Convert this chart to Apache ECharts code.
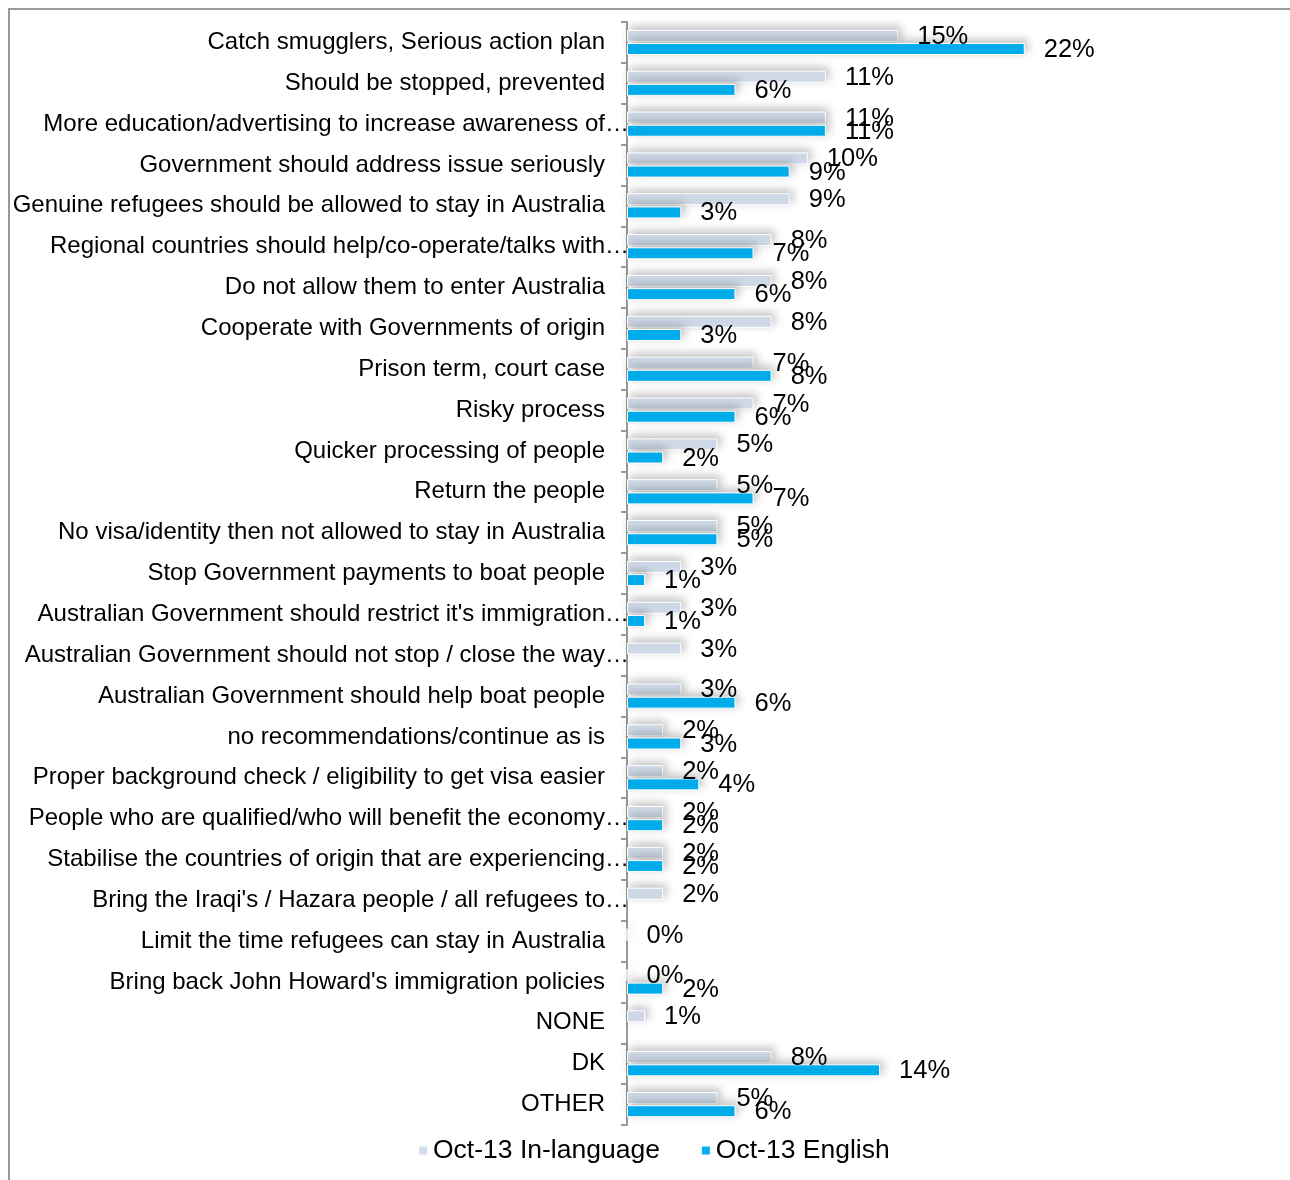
<!DOCTYPE html>
<html>
<head>
<meta charset="utf-8">
<script src="https://cdn.jsdelivr.net/npm/echarts@6/dist/echarts.min.js"></script>
<style>
  html, body { margin: 0; padding: 0; background: #fff; }
  #chart { width: 1290px; height: 1180px; }
</style>
</head>
<body>
<div id="chart"></div>
<script>
// categories, top to bottom
const categories = [
  'Catch smugglers, Serious action plan',
  'Should be stopped, prevented',
  'More education/advertising to increase awareness of…',
  'Government should address issue seriously',
  'Genuine refugees should be allowed to stay in Australia',
  'Regional countries should help/co-operate/talks with…',
  'Do not allow them to enter Australia',
  'Cooperate with Governments of origin',
  'Prison term, court case',
  'Risky process',
  'Quicker processing of people',
  'Return the people',
  'No visa/identity then not allowed to stay in Australia',
  'Stop Government payments to boat people',
  "Australian Government should restrict it's immigration…",
  'Australian Government should not stop / close the way…',
  'Australian Government should help boat people',
  'no recommendations/continue as is',
  'Proper background check / eligibility to get visa easier',
  'People who are qualified/who will benefit the economy…',
  'Stabilise the countries of origin that are experiencing…',
  "Bring the Iraqi's / Hazara people / all refugees to…",
  'Limit the time refugees can stay in Australia',
  "Bring back John Howard's immigration policies",
  'NONE',
  'DK',
  'OTHER'
]

// percentages
const inLanguage = [15, 11, 11, 10, 9, 8, 8, 8, 7, 7, 5, 5, 5, 3, 3, 3, 3, 2, 2, 2, 2, 2, 0, 0, 1, 8, 5]
const english = [22, 6, 11, 9, 3, 7, 6, 3, 8, 6, 2, 7, 5, 1, 1, null, 6, 3, 4, 2, 2, null, null, 2, null, 14, 6]

const seriesNames = ['Oct-13 In-language', 'Oct-13 English']
const seriesColors = ['#D3DEEC', '#00B0F0']

const dom = echarts.init(document.getElementById('chart'))

function makeSeries(name, data, color) {
  return {
    name: name,
    type: 'bar',
    data: data,
    barWidth: 12,
    barGap: '10%',
    itemStyle: {
      color: color,
      borderColor: '#fff',
      borderWidth: 1,
      shadowBlur: 10,
      shadowColor: 'rgba(0,0,0,0.25)',
      shadowOffsetX: 3,
      shadowOffsetY: -3
    },
    label: {
      show: true,
      position: 'right',
      distance: 19,
      offset: [0, 1],
      formatter: '{c}%',
      color: '#000',
      fontFamily: 'Liberation Sans',
      fontSize: 25.5
    }
  }
}

const option = {
  animation: false,
  backgroundColor: '#fff',
  graphic: [{
    type: 'rect',
    shape: { x: 9, y: 9, width: 1300, height: 1200 },
    style: { fill: 'none', stroke: '#999', lineWidth: 2 },
    silent: true
  }],
  legend: {
    bottom: 11,
    left: 412,
    itemWidth: 10,
    itemHeight: 10,
    itemGap: 40,
    icon: 'rect',
    textStyle: {
      color: '#000',
      fontFamily: 'Liberation Sans',
      fontSize: 26.5
    },
    data: seriesNames
  },
  grid: {
    left: 627,
    right: 211,
    top: 22,
    bottom: 55,
    containLabel: false
  },
  xAxis: {
    type: 'value',
    min: 0,
    max: 25,
    show: false
  },
  yAxis: {
    type: 'category',
    inverse: true,
    data: categories,
    axisLine: {
      show: true,
      lineStyle: { color: '#999', width: 2 }
    },
    axisTick: {
      show: true,
      length: 6,
      lineStyle: { color: '#999', width: 2 }
    },
    axisLabel: {
      margin: -2,
      // clipped labels run up to the axis, full ones stop short of it
      formatter: function (v) {
        return v.endsWith('…') ? '{t|' + v + '}' : '{n|' + v + '}'
      },
      rich: {
        n: { color: '#000', fontFamily: 'Liberation Sans', fontSize: 24, padding: [0, 24, 0, 0] },
        t: { color: '#000', fontFamily: 'Liberation Sans', fontSize: 24, padding: [0, 0, 0, 0] }
      }
    }
  },
  series: [
    makeSeries(seriesNames[0], inLanguage, seriesColors[0]),
    makeSeries(seriesNames[1], english, seriesColors[1])
  ]
}

dom.setOption(option)
window.addEventListener('resize', dom.resize)
</script>
</body>
</html>
